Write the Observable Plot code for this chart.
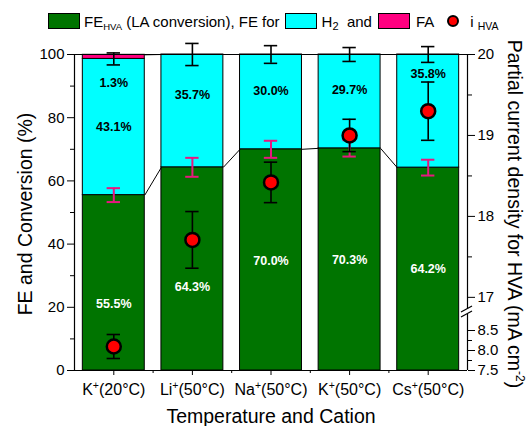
<!DOCTYPE html>
<html><head><meta charset="utf-8">
<script src="https://cdn.jsdelivr.net/npm/d3@7"></script>
<script src="https://cdn.jsdelivr.net/npm/@observablehq/plot@0.6"></script>
<style>
html,body{margin:0;padding:0;background:#fff;overflow:hidden}
#wrap{position:relative;width:529px;height:426px;font-family:"Liberation Sans",Arial,sans-serif;color:#000}
#wrap svg{position:absolute;left:0;top:0}
#legend{position:absolute;left:48px;top:13px;height:16px;display:flex;align-items:center;font-size:15px;white-space:nowrap;z-index:2}
.sw{display:inline-block;width:32px;height:16px;box-sizing:border-box;border:1.5px solid #000;flex:none}
.dot{display:inline-block;width:12px;height:12px;box-sizing:border-box;border:2.5px solid #000;border-radius:50%;background:#ff0000;flex:none}
sub{font-size:9.5px;vertical-align:-3px;line-height:0}
</style></head><body>
<div id="wrap">
  <div id="legend">
    <span class="sw" style="background:#007400"></span>
    <span style="margin-left:4px">FE<sub>HVA</sub> (LA conversion), FE for</span>
    <span class="sw" style="background:#00ffff;margin-left:5px"></span>
    <span style="margin-left:5px">H<sub style="font-size:11px">2</sub>&nbsp; and</span>
    <span class="sw" style="background:#ff0080;margin-left:6px"></span>
    <span style="margin-left:6px">FA</span>
    <span class="dot" style="margin-left:13px"></span>
    <span style="margin-left:11px">i <sub style="font-size:10.5px">HVA</sub></span>
  </div>
</div>
<script>
// ---- data ----
const ions = ["K", "Li", "Na", "K", "Cs"];
const temps = ["20°C", "50°C", "50°C", "50°C", "50°C"];
const feHVA = [55.5, 64.3, 70.0, 70.3, 64.2];
const feHVAErr = [2.2, 3.0, 2.7, 2.6, 2.5];
const feH2 = [43.1, 35.7, 30.0, 29.7, 35.8];
const feH2Err = [1.9, 3.5, 2.8, 2.2, 2.5];
const feFA = [1.3, 0, 0, 0, 0];
const iHVA = [8.1, 17.71, 18.42, 19.0, 19.3];
const iHVAErr = [0.3, 0.35, 0.25, 0.2, 0.36];
const leftTicks = [0, 20, 40, 60, 80, 100];
const leftMinor = [10, 30, 50, 70, 90];
const rightTicks = [7.5, 8.0, 8.5, 17, 18, 19, 20];
const rightMinor = [7.75, 8.25, 17.5, 18.5, 19.5];

// ---- layout (label anchors in % units, bar geometry in category units) ----
const labelFeY = [21.2, 26.3, 34.8, 35.1, 32.0];
const labelH2Y = [77.2, 87.3, 88.3, 88.9, 93.7];
const labelFaY = [91.1, null, null, null, null];
const HALF = 0.394, CAP = 0.085;
const GREEN = "#007400", CYAN = "#00ffff", PINK = "#ff0080", PINKERR = "#e8177f";

const rows = ions.map((ion, k) => ({
  i: k + 1, ion, temp: temps[k],
  fe: feHVA[k], feErr: feHVAErr[k],
  h2: feH2[k], h2Err: feH2Err[k],
  fa: feFA[k], cur: iHVA[k], curErr: iHVAErr[k]
}));
const pairs = rows.slice(0, -1).map((d, k) => ({a: d, b: rows[k + 1]}));

const common = {
  width: 529, height: 426,
  marginTop: 54, marginBottom: 56, marginLeft: 74, marginRight: 62,
  style: {fontFamily: '"Liberation Sans", Arial, sans-serif', fontSize: "15px", color: "#000", background: "transparent", overflow: "visible"}
};

const bars = Plot.plot({
  ...common,
  x: {domain: [0.5, 5.5], label: null},
  y: {domain: [0, 100], label: null},
  marks: [
    Plot.rect(rows, {x1: d => d.i - HALF, x2: d => d.i + HALF, y1: 0, y2: d => d.fe, fill: GREEN, stroke: "#000", strokeWidth: 1}),
    Plot.rect(rows, {x1: d => d.i - HALF, x2: d => d.i + HALF, y1: d => d.fe, y2: d => d.fe + d.h2, fill: CYAN, stroke: "#000", strokeWidth: 1}),
    Plot.rect(rows.filter(d => d.fa > 0), {x1: d => d.i - HALF, x2: d => d.i + HALF, y1: d => d.fe + d.h2, y2: d => d.fe + d.h2 + d.fa, fill: PINK, stroke: "#000", strokeWidth: 1}),
    Plot.link(pairs, {x1: p => p.a.i + HALF, x2: p => p.b.i - HALF, y1: p => p.a.fe, y2: p => p.b.fe, stroke: "#000", strokeWidth: 1}),
    Plot.link(pairs, {x1: p => p.a.i + HALF, x2: p => p.b.i - HALF, y1: p => p.a.fe + p.a.h2 + p.a.fa, y2: p => p.b.fe + p.b.h2 + p.b.fa, stroke: "#000", strokeWidth: 1}),
    Plot.ruleY([0, 100], {stroke: "#000", strokeWidth: 1.2}),
    Plot.ruleX([0.5], {stroke: "#000", strokeWidth: 1.2}),
    Plot.axisY({ticks: leftTicks, tickSize: 7, tickPadding: 3, label: null, fontSize: 15}),
    Plot.axisY({ticks: leftMinor, tickSize: 4, tickFormat: () => "", label: null}),
    Plot.axisX({ticks: [1, 2, 3, 4, 5], tickSize: 5, tickPadding: 8, label: null, fontSize: 16,
      tickFormat: v => `${ions[v - 1]}+(${temps[v - 1]})`}),
    Plot.axisX({ticks: [1.5, 2.5, 3.5, 4.5], tickSize: 3, tickFormat: () => "", label: null}),
    // texts
    Plot.text(rows, {x: "i", y: (d, k) => labelFeY[k], text: d => d.fe.toFixed(1) + "%", fill: "white", fontWeight: "bold", fontSize: 12.5}),
    Plot.text(rows, {x: "i", y: (d, k) => labelH2Y[k], text: d => d.h2.toFixed(1) + "%", fill: "black", fontWeight: "bold", fontSize: 12.5}),
    Plot.text(rows.filter(d => d.fa > 0), {x: "i", y: d => labelFaY[d.i - 1], text: d => d.fa.toFixed(1) + "%", fill: "black", fontWeight: "bold", fontSize: 12.5}),
    // FE_HVA error bars (pink)
    Plot.ruleX(rows, {x: "i", y1: d => d.fe - d.feErr, y2: d => d.fe + d.feErr, stroke: PINKERR, strokeWidth: 2}),
    Plot.ruleY(rows, {x1: d => d.i - CAP, x2: d => d.i + CAP, y: d => d.fe - d.feErr, stroke: PINKERR, strokeWidth: 2}),
    Plot.ruleY(rows, {x1: d => d.i - CAP, x2: d => d.i + CAP, y: d => d.fe + d.feErr, stroke: PINKERR, strokeWidth: 2}),
    // H2 error bars (black, at top of stack)
    Plot.ruleX(rows, {x: "i", y1: d => d.fe + d.h2 - d.h2Err, y2: d => d.fe + d.h2 + d.h2Err, stroke: "#000", strokeWidth: 1.6}),
    Plot.ruleY(rows, {x1: d => d.i - CAP, x2: d => d.i + CAP, y: d => d.fe + d.h2 - d.h2Err, stroke: "#000", strokeWidth: 1.6}),
    Plot.ruleY(rows, {x1: d => d.i - CAP, x2: d => d.i + CAP, y: d => d.fe + d.h2 + d.h2Err, stroke: "#000", strokeWidth: 1.6})
  ]
});

function breakMarks(index, scales, values, dimensions) {
  const x = dimensions.width - dimensions.marginRight;
  const g = d3.create("svg:g").attr("stroke", "#000").attr("stroke-width", 1.2);
  const yA = scales.y(16.85), yB = scales.y(8.9);
  [yA, yB].forEach(y => g.append("line").attr("x1", x - 6).attr("y1", y + 3).attr("x2", x + 5).attr("y2", y - 3));
  return g.node();
}

const points = Plot.plot({
  ...common,
  x: {domain: [0.5, 5.5], label: null, axis: null},
  y: {type: "linear", domain: [7.5, 8.9, 16.85, 20], range: [370, 314, 309, 54], label: null},
  marks: [
    Plot.ruleX([5.5], {y1: 16.85, y2: 20, stroke: "#000", strokeWidth: 1.2}),
    Plot.ruleX([5.5], {y1: 7.5, y2: 8.9, stroke: "#000", strokeWidth: 1.2}),
    breakMarks,
    Plot.axisY({anchor: "right", ticks: rightTicks, tickSize: 7, tickPadding: 3, label: null, fontSize: 15,
      tickFormat: d => d < 10 ? d.toFixed(1) : String(d)}),
    Plot.axisY({anchor: "right", ticks: rightMinor, tickSize: 4, tickFormat: () => "", label: null}),
    Plot.ruleX(rows, {x: "i", y1: d => d.cur - d.curErr, y2: d => d.cur + d.curErr, stroke: "#000", strokeWidth: 1.6}),
    Plot.ruleY(rows, {x1: d => d.i - CAP, x2: d => d.i + CAP, y: d => d.cur - d.curErr, stroke: "#000", strokeWidth: 1.6}),
    Plot.ruleY(rows, {x1: d => d.i - CAP, x2: d => d.i + CAP, y: d => d.cur + d.curErr, stroke: "#000", strokeWidth: 1.6}),
    Plot.dot(rows, {x: "i", y: "cur", r: 7, fill: "#ff0000", stroke: "#000", strokeWidth: 2.5})
  ]
});

const wrap = document.getElementById("wrap");
wrap.appendChild(bars);
wrap.appendChild(points);

// superscripts in category tick labels
d3.select(bars).selectAll('g[aria-label="x-axis tick label"] text').each(function () {
  const t = this.textContent;
  if (!t.includes("+")) return;
  const [a, b] = t.split("+");
  const s = d3.select(this);
  s.text(null);
  s.append("tspan").text(a);
  s.append("tspan").attr("dy", "-6").attr("font-size", "10.5px").text("+");
  s.append("tspan").attr("dy", "6").text(b);
});

// axis titles
const sv = d3.select(points);
const tg = sv.append("g").attr("font-family", '"Liberation Sans", Arial, sans-serif').attr("fill", "#000").attr("font-size", 19.5);
tg.append("text").attr("transform", "translate(32,214) rotate(-90)").attr("text-anchor", "middle").text("FE and Conversion (%)");
tg.append("text").attr("x", 271).attr("y", 423).attr("text-anchor", "middle").text("Temperature and Cation");
const rt = tg.append("text").attr("transform", "translate(508,214) rotate(90)").attr("text-anchor", "middle");
rt.append("tspan").text("Partial current density for HVA (mA cm");
rt.append("tspan").attr("dy", -8).attr("font-size", 12).text("-2");
rt.append("tspan").attr("dy", 8).text(")");
</script>
</body></html>
